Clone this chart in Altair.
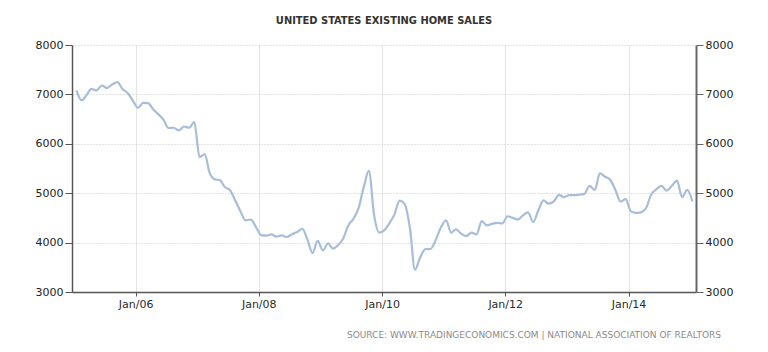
import altair as alt
import pandas as pd

# Monthly existing home sales (thousands, SAAR), Jan 2005 .. Jan 2015
start_year = 2005
sales = [
    7080, 6880, 6980, 7110, 7080, 7180, 7130, 7200, 7250, 7110,
    7030, 6880, 6730, 6830, 6825, 6700, 6600, 6490, 6320, 6325,
    6270, 6350, 6325, 6440, 5730, 5790, 5420, 5280, 5265, 5120,
    5060, 4850, 4630, 4450, 4467, 4320, 4150, 4140, 4167, 4120,
    4147, 4113, 4167, 4213, 4280, 4070, 3787, 4033, 3840, 3987,
    3880, 3947, 4080, 4347, 4480, 4700, 5133, 5450, 4550, 4200,
    4253, 4400, 4567, 4850, 4780, 4300, 3450, 3700, 3867, 3870,
    4050, 4300, 4450, 4200, 4267, 4180, 4133, 4200, 4167, 4433,
    4347, 4380, 4400, 4387, 4533, 4500, 4467, 4550, 4613, 4413,
    4650, 4853, 4787, 4833, 4967, 4920, 4960, 4960, 4970, 4987,
    5147, 5067, 5400, 5333, 5267, 5067, 4833, 4880, 4633, 4600,
    4613, 4700, 4967, 5080, 5147, 5053, 5150, 5253, 4920, 5067,
    4833,
]
# monthly observations, plotted at mid-month
dates = (pd.date_range(f"{start_year}-01-01", periods=len(sales), freq="MS")
         + pd.Timedelta(days=14)).strftime("%Y-%m-%d").tolist()
tick_years = [2006, 2008, 2010, 2012, 2014]
y_ticks = [3000, 4000, 5000, 6000, 7000, 8000]
title_text = "UNITED STATES EXISTING HOME SALES"
source_text = "SOURCE:  WWW.TRADINGECONOMICS.COM  |  NATIONAL  ASSOCIATION  OF  REALTORS"

df = pd.DataFrame({"date": dates, "value": sales})

FONT = "DejaVu Sans"

x_enc = alt.X(
    "date:T",
    scale=alt.Scale(
        type="utc",
        domain=[alt.DateTime(year=2004, month=12, date=20, utc=True),
                alt.DateTime(year=2015, month=2, date=5, utc=True)],
    ),
    axis=alt.Axis(
        title=None,
        values=[alt.DateTime(year=y, month=1, date=1, utc=True) for y in tick_years],
        labelExpr="utcFormat(datum.value, '%b/%y')",
        grid=True,
        gridColor="#e4e4e4",
        gridWidth=1,
        domainColor="#555555",
        domainWidth=1.5,
        tickColor="#555555",
        tickSize=4,
        labelPadding=2,
        labelFont=FONT,
        labelFontSize=11,
        labelColor="#2a2a2a",
    ),
)

y_scale = alt.Scale(domain=[3000, 8000], nice=False)

y_left = alt.Y(
    "value:Q",
    scale=y_scale,
    axis=alt.Axis(
        title=None,
        orient="left",
        values=y_ticks,
        format="d",
        grid=True,
        gridColor="#c8c8c8",
        gridDash=[1, 2],
        gridWidth=1,
        domainColor="#555555",
        domainWidth=1.5,
        tickColor="#555555",
        tickSize=7,
        labelPadding=2,
        labelFont=FONT,
        labelFontSize=11,
        labelColor="#222222",
    ),
)

y_right = alt.Y(
    "value:Q",
    scale=y_scale,
    axis=alt.Axis(
        title=None,
        orient="right",
        values=y_ticks,
        format="d",
        grid=False,
        domainColor="#666666",
        domainWidth=2,
        tickColor="#666666",
        tickSize=7,
        labelPadding=2,
        labelFont=FONT,
        labelFontSize=11,
        labelColor="#222222",
    ),
)

line = alt.Chart(df).mark_line(
    color="#a8bdd8", strokeWidth=2.2, interpolate="monotone"
).encode(x=x_enc, y=y_left)

ghost = alt.Chart(df).mark_line(strokeOpacity=0).encode(x=x_enc, y=y_right)

title = alt.Chart(pd.DataFrame({"t": [title_text]})).mark_text(
    align="center", baseline="alphabetic",
    font="DejaVu Sans Condensed, DejaVu Sans",
    fontSize=11, fontWeight="bold", color="#333333",
).encode(x=alt.value(312), y=alt.value(-21), text="t:N")

source = alt.Chart(pd.DataFrame({"t": [source_text]})).mark_text(
    align="right", baseline="alphabetic", font=FONT, fontSize=9, color="#8a8a8a"
).encode(x=alt.value(649), y=alt.value(293), text="t:N")

chart = (
    alt.layer(line, ghost, title, source)
    .resolve_axis(y="independent")
    .properties(
        width=624,
        height=247,
        autosize=alt.AutoSizeParams(type="none"),
        padding={"left": 72, "top": 45, "right": 72, "bottom": 60},
        background="white",
    )
    .configure_view(stroke=None)
)

chart.save("out.html", embed_options={"renderer": "svg", "actions": False})
